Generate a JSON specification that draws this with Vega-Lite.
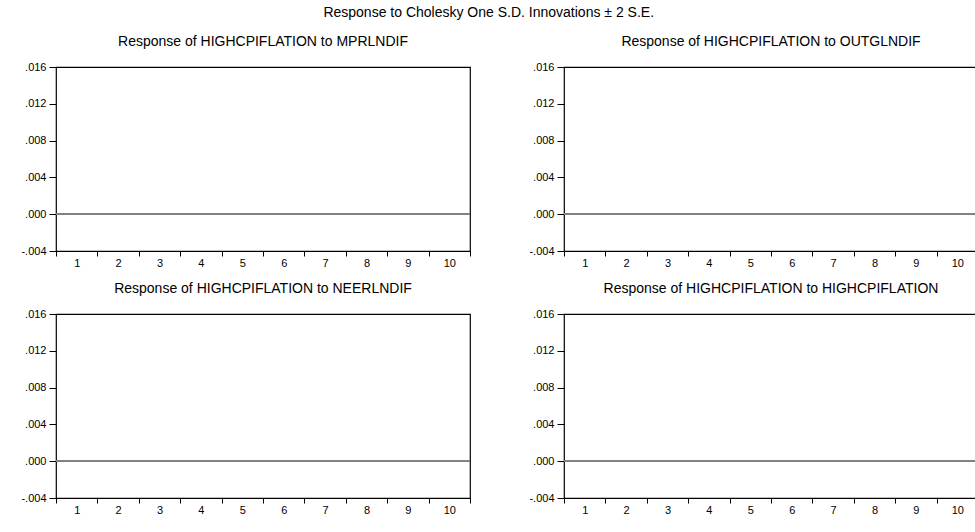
{
  "$schema": "https://vega.github.io/schema/vega-lite/v6.json",
  "padding": {"left": 20, "top": 6, "right": 0, "bottom": 0},
  "background": "white",
  "datasets": {
    "irf": [
      {"panel": "MPRLNDIF", "period": 1, "response": 0}, {"panel": "MPRLNDIF", "period": 2, "response": 0},
      {"panel": "MPRLNDIF", "period": 3, "response": 0}, {"panel": "MPRLNDIF", "period": 4, "response": 0},
      {"panel": "MPRLNDIF", "period": 5, "response": 0}, {"panel": "MPRLNDIF", "period": 6, "response": 0},
      {"panel": "MPRLNDIF", "period": 7, "response": 0}, {"panel": "MPRLNDIF", "period": 8, "response": 0},
      {"panel": "MPRLNDIF", "period": 9, "response": 0}, {"panel": "MPRLNDIF", "period": 10, "response": 0},
      {"panel": "OUTGLNDIF", "period": 1, "response": 0}, {"panel": "OUTGLNDIF", "period": 2, "response": 0},
      {"panel": "OUTGLNDIF", "period": 3, "response": 0}, {"panel": "OUTGLNDIF", "period": 4, "response": 0},
      {"panel": "OUTGLNDIF", "period": 5, "response": 0}, {"panel": "OUTGLNDIF", "period": 6, "response": 0},
      {"panel": "OUTGLNDIF", "period": 7, "response": 0}, {"panel": "OUTGLNDIF", "period": 8, "response": 0},
      {"panel": "OUTGLNDIF", "period": 9, "response": 0}, {"panel": "OUTGLNDIF", "period": 10, "response": 0},
      {"panel": "NEERLNDIF", "period": 1, "response": 0}, {"panel": "NEERLNDIF", "period": 2, "response": 0},
      {"panel": "NEERLNDIF", "period": 3, "response": 0}, {"panel": "NEERLNDIF", "period": 4, "response": 0},
      {"panel": "NEERLNDIF", "period": 5, "response": 0}, {"panel": "NEERLNDIF", "period": 6, "response": 0},
      {"panel": "NEERLNDIF", "period": 7, "response": 0}, {"panel": "NEERLNDIF", "period": 8, "response": 0},
      {"panel": "NEERLNDIF", "period": 9, "response": 0}, {"panel": "NEERLNDIF", "period": 10, "response": 0},
      {"panel": "HIGHCPIFLATION", "period": 1, "response": 0}, {"panel": "HIGHCPIFLATION", "period": 2, "response": 0},
      {"panel": "HIGHCPIFLATION", "period": 3, "response": 0}, {"panel": "HIGHCPIFLATION", "period": 4, "response": 0},
      {"panel": "HIGHCPIFLATION", "period": 5, "response": 0}, {"panel": "HIGHCPIFLATION", "period": 6, "response": 0},
      {"panel": "HIGHCPIFLATION", "period": 7, "response": 0}, {"panel": "HIGHCPIFLATION", "period": 8, "response": 0},
      {"panel": "HIGHCPIFLATION", "period": 9, "response": 0}, {"panel": "HIGHCPIFLATION", "period": 10, "response": 0}
    ]
  },
  "title": {
    "text": "Response to Cholesky One S.D. Innovations ± 2 S.E.",
    "frame": "bounds",
    "anchor": "middle",
    "offset": 14,
    "dx": -11,
    "fontSize": 14,
    "fontWeight": "normal",
    "font": "Liberation Sans",
    "color": "black"
  },
  "columns": 2,
  "spacing": {"column": 94, "row": 63},
  "bounds": "flush",
  "concat": [
    {
      "title": "Response of HIGHCPIFLATION to MPRLNDIF",
      "width": 414, "height": 184,
      "data": {"name": "irf"},
      "transform": [{"filter": "datum.panel === 'MPRLNDIF'"}],
      "layer": [
        {"mark": {"type": "point", "opacity": 0},
         "encoding": {
           "x": {"field": "period", "type": "ordinal", "scale": {"type": "band", "paddingInner": 0, "paddingOuter": 0}},
           "y": {"field": "response", "type": "quantitative", "scale": {"domain": [-0.004, 0.016], "nice": false, "zero": false},
                 "axis": {"values": [-0.004, 0, 0.004, 0.008, 0.012, 0.016], "tickCount": 20}}
         }},
        {"mark": {"type": "rule", "color": "#808080", "strokeWidth": 1}, "encoding": {"y": {"datum": 0}}}
      ]
    },
    {
      "title": "Response of HIGHCPIFLATION to OUTGLNDIF",
      "width": 414, "height": 184,
      "data": {"name": "irf"},
      "transform": [{"filter": "datum.panel === 'OUTGLNDIF'"}],
      "layer": [
        {"mark": {"type": "point", "opacity": 0},
         "encoding": {
           "x": {"field": "period", "type": "ordinal", "scale": {"type": "band", "paddingInner": 0, "paddingOuter": 0}},
           "y": {"field": "response", "type": "quantitative", "scale": {"domain": [-0.004, 0.016], "nice": false, "zero": false},
                 "axis": {"values": [-0.004, 0, 0.004, 0.008, 0.012, 0.016], "tickCount": 20}}
         }},
        {"mark": {"type": "rule", "color": "#808080", "strokeWidth": 1}, "encoding": {"y": {"datum": 0}}}
      ]
    },
    {
      "title": "Response of HIGHCPIFLATION to NEERLNDIF",
      "width": 414, "height": 184,
      "data": {"name": "irf"},
      "transform": [{"filter": "datum.panel === 'NEERLNDIF'"}],
      "layer": [
        {"mark": {"type": "point", "opacity": 0},
         "encoding": {
           "x": {"field": "period", "type": "ordinal", "scale": {"type": "band", "paddingInner": 0, "paddingOuter": 0}},
           "y": {"field": "response", "type": "quantitative", "scale": {"domain": [-0.004, 0.016], "nice": false, "zero": false},
                 "axis": {"values": [-0.004, 0, 0.004, 0.008, 0.012, 0.016], "tickCount": 20}}
         }},
        {"mark": {"type": "rule", "color": "#808080", "strokeWidth": 1}, "encoding": {"y": {"datum": 0}}}
      ]
    },
    {
      "title": "Response of HIGHCPIFLATION to HIGHCPIFLATION",
      "width": 414, "height": 184,
      "data": {"name": "irf"},
      "transform": [{"filter": "datum.panel === 'HIGHCPIFLATION'"}],
      "layer": [
        {"mark": {"type": "point", "opacity": 0},
         "encoding": {
           "x": {"field": "period", "type": "ordinal", "scale": {"type": "band", "paddingInner": 0, "paddingOuter": 0}},
           "y": {"field": "response", "type": "quantitative", "scale": {"domain": [-0.004, 0.016], "nice": false, "zero": false},
                 "axis": {"values": [-0.004, 0, 0.004, 0.008, 0.012, 0.016], "tickCount": 20}}
         }},
        {"mark": {"type": "rule", "color": "#808080", "strokeWidth": 1}, "encoding": {"y": {"datum": 0}}}
      ]
    }
  ],
  "config": {
    "font": "Liberation Sans",
    "view": {"stroke": "black", "strokeWidth": 1.2},
    "title": {"fontSize": 14, "fontWeight": "normal", "color": "black", "frame": "group", "offset": 12, "anchor": "middle", "font": "Liberation Sans"},
    "axis": {
      "title": null,
      "grid": false,
      "domain": false,
      "tickColor": "black",
      "labelColor": "black",
      "labelFont": "Liberation Sans",
      "labelFontSize": 11,
      "labelOverlap": false
    },
    "axisX": {"tickBand": "extent", "tickSize": 5, "labelPadding": 1, "labelAngle": 0},
    "axisY": {
      "labelExpr": "replace(replace(format(datum.value, '.3f'), '0.', '.'), '−', '-')",
      "tickSize": 7,
      "labelPadding": 3
    }
  }
}
